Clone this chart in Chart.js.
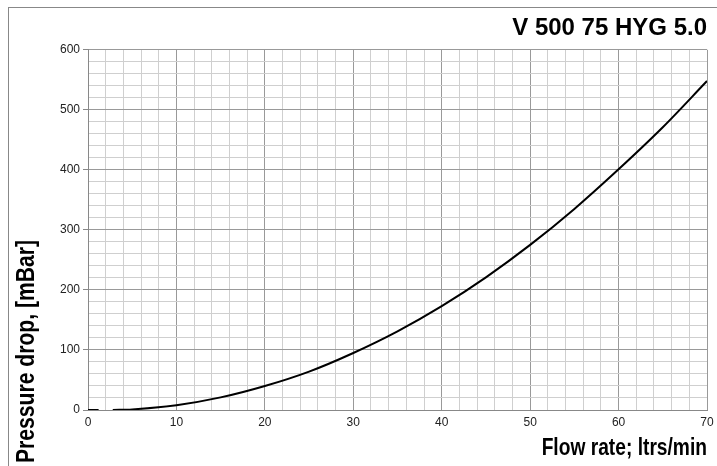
<!DOCTYPE html>
<html>
<head>
  <title>V 500 75 HYG 5.0</title>
  <meta charset="UTF-8">
  <script src="https://cdn.jsdelivr.net/npm/chart.js"></script>
  <style>
    html, body { margin: 0; padding: 0; background: #fff; }
    #wrap { position: relative; width: 717px; height: 466px; overflow: hidden; }
    #frame { position: absolute; left: 8px; top: 7px; width: 720px; height: 470px;
             border-left: 1px solid #888; border-top: 1px solid #888; }
    #chart { position: absolute; left: 0; top: 0; }
  </style>
</head>
<body>
  <div id="wrap">
    <div id="frame"></div>
    <canvas id="chart" width="717" height="466"></canvas>
  </div>

  <script>
    // values (null = the small gap near the origin)
    const flowRate     = [0, 1.2, 2, 2.8, 5, 10, 15, 20, 25, 30, 35, 40, 45, 50, 55, 60, 65, 70];
    const pressureDrop = [0, 0, null, 0, 1, 8, 21, 40, 64, 95, 131, 173, 221, 275, 335, 401, 471, 548];

    const chartTitle = 'V 500 75 HYG 5.0';
    const xTitle = 'Flow rate; ltrs/min';
    const yTitle = 'Pressure drop, [mBar]';

    const family = "'Liberation Sans', Arial, sans-serif";

    // axis titles use a narrow bold face in the original; squeeze the text
    const axisTitles = {
      id: 'axisTitles',
      afterDraw(chart) {
        const ctx = chart.ctx;
        ctx.save();
        ctx.fillStyle = '#000';
        ctx.textBaseline = 'middle';

        ctx.font = 'bold 24px ' + family;
        ctx.save();
        ctx.translate(chart.chartArea.right, 448.5);
        ctx.scale(0.8, 1);
        ctx.textAlign = 'right';
        ctx.fillText(xTitle, 0, 0);
        ctx.restore();

        ctx.font = 'bold 25px ' + family;
        ctx.save();
        ctx.translate(27.5, 351.5);
        ctx.rotate(-Math.PI / 2);
        ctx.scale(0.845, 1);
        ctx.textAlign = 'center';
        ctx.fillText(yTitle, 0, 0);
        ctx.restore();

        ctx.restore();
      }
    };

    const points = flowRate.map((x, i) => ({ x: x, y: pressureDrop[i] }));

    new Chart(document.getElementById('chart').getContext('2d'), {
      type: 'line',
      data: {
        datasets: [{
          data: points,
          borderColor: '#000',
          borderWidth: 2,
          pointRadius: 0,
          fill: false,
          spanGaps: false,
          cubicInterpolationMode: 'monotone'
        }]
      },
      options: {
        responsive: false,
        animation: false,
        layout: { padding: { top: 14, right: 10, bottom: 4, left: 0 } },
        plugins: {
          legend: { display: false },
          tooltip: { enabled: false },
          title: {
            display: true,
            text: chartTitle,
            align: 'end',
            color: '#000',
            font: { family: family, size: 24, weight: 'bold' },
            padding: { top: 0, bottom: 7 }
          }
        },
        scales: {
          x: {
            type: 'linear',
            min: 0,
            max: 70,
            afterFit: s => { s.height = 52; s.paddingRight = 0; s.paddingLeft = 0; },
            border: { color: '#888', width: 1 },
            grid: {
              drawTicks: false,
              color: c => c.tick.value % 10 === 0 ? '#999' : '#cfcfcf'
            },
            ticks: {
              stepSize: 2,
              padding: 5,
              maxRotation: 0,
              autoSkip: false,
              color: '#222',
              font: { family: family, size: 12 },
              callback: v => v % 10 === 0 ? v : ''
            }
          },
          y: {
            min: 0,
            max: 600,
            afterFit: s => { s.width = 88; },
            border: { color: '#888', width: 1 },
            grid: {
              tickLength: 5,
              color: c => c.tick.value % 100 === 0 ? '#999' : '#cfcfcf',
              tickColor: c => c.tick.value % 100 === 0 ? '#888' : 'rgba(0,0,0,0)'
            },
            ticks: {
              stepSize: 20,
              padding: 3,
              autoSkip: false,
              color: '#222',
              font: { family: family, size: 12 },
              callback: v => v % 100 === 0 ? v : ''
            }
          }
        }
      },
      plugins: [axisTitles]
    });
  </script>
</body>
</html>
